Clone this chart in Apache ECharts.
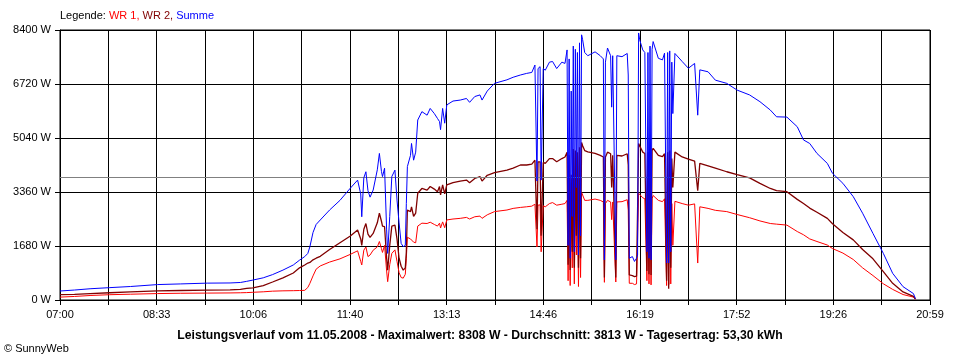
<!DOCTYPE html>
<html><head><meta charset="utf-8">
<script src="https://cdn.jsdelivr.net/npm/echarts@6/dist/echarts.min.js"></script>
<style>html,body{margin:0;padding:0;background:#fff}#c{width:960px;height:360px}</style>
</head><body><div id="c"></div>
<script>
const tickLabels = ['07:00','08:33','10:06','11:40','13:13','14:46','16:19','17:52','19:26','20:59'];
const yMax = 8400, yStep = 1680, average = 3813;
const times = ['07:00','07:14','07:29','07:48','08:08','08:34','08:56','09:22','09:44','09:54','10:00','10:06','10:16','10:25','10:35','10:45','10:51','10:56','10:59','11:01','11:04','11:07','11:11','11:20','11:30','11:40','11:47','11:50','11:51','11:53','11:55','11:57','11:59','12:02','12:06','12:08','12:10','12:11','12:13','12:15','12:16','12:18','12:20','12:23','12:25','12:27','12:29','12:31','12:33','12:34','12:35','12:38','12:39','12:41','12:43','12:45','12:49','12:54','12:57','13:01','13:04','13:06','13:07','13:09','13:11','13:13','13:19','13:26','13:32','13:35','13:40','13:45','13:47','13:52','13:59','14:11','14:17','14:24','14:30','14:35','14:38','14:40','14:41','14:43','14:44','14:46','14:48','14:52','14:55','14:59','15:04','15:07','15:09','15:10','15:11','15:12','15:13','15:14','15:15','15:16','15:17','15:18','15:19','15:20','15:21','15:22','15:23','15:24','15:26','15:29','15:36','15:41','15:44','15:45','15:46','15:48','15:51','15:52','15:53','15:56','15:57','16:02','16:07','16:08','16:09','16:10','16:12','16:14','16:16','16:17','16:18','16:19','16:22','16:24','16:26','16:27','16:28','16:29','16:30','16:31','16:32','16:37','16:41','16:43','16:45','16:46','16:47','16:48','16:49','16:50','16:51','16:53','17:00','17:06','17:12','17:15','17:17','17:25','17:32','17:43','17:53','18:05','18:15','18:25','18:31','18:41','18:51','18:57','19:03','19:10','19:20','19:25','19:35','19:45','19:54','20:04','20:14','20:23','20:33','20:43','20:45'];
const summe = [280,310,350,385,420,480,500,525,530,545,580,620,690,790,930,1090,1240,1350,1450,1660,2100,2350,2490,2800,3100,3480,3730,3300,2590,3800,3990,3400,3200,3420,4050,4560,4000,3840,4100,2180,1450,2600,3840,4040,3110,2400,1760,1660,1700,3000,4150,4500,4870,4350,4600,5600,5860,5750,5960,5800,5650,5550,5300,5960,5500,6070,6190,6220,6270,6150,6330,6380,6220,6500,6740,6850,6930,7000,7050,7080,7310,3700,7200,7260,3730,7200,7150,7400,7420,7200,7400,7360,7780,1700,7500,1300,6500,2600,7900,1500,7800,3500,7700,1400,8000,2000,8250,8100,7700,7600,7720,7600,7500,1250,7400,7840,7600,6000,7600,1250,7600,7570,7670,7000,1300,1250,1350,1200,1300,1400,8308,8100,7780,7700,1500,7700,1300,7900,1250,7800,8040,7520,7470,7680,1150,7700,1150,7750,1500,7400,5800,7670,7420,7210,7360,5750,7160,7100,6840,6740,6530,6380,6170,5910,5700,5690,5390,4980,4870,4560,4250,3940,3630,3215,2700,2070,1450,830,415,200,40];
const wr2 = [165,175,200,225,250,285,295,310,315,330,360,380,450,560,690,840,1000,1090,1150,1170,1250,1300,1360,1570,1780,1990,2180,1900,1700,2200,2380,2050,1950,2070,2400,2700,2450,2300,2280,1300,930,1700,2300,2330,1900,1300,1050,930,1000,1500,2800,2750,2900,2600,2700,3320,3470,3420,3530,3450,3370,3530,3270,3580,3300,3580,3650,3700,3730,3650,3780,3840,3700,3880,3960,4040,4100,4200,4200,4230,4350,2200,4300,4300,2000,4280,4250,4400,4400,4300,4400,4450,4600,1100,4500,930,3900,1500,4700,1000,4650,2000,4600,1000,4750,1300,4900,4800,4650,4610,4560,4500,4450,700,4450,4600,4550,3500,4500,700,4500,4480,4550,4200,780,740,760,730,740,800,4870,4800,4600,4560,900,4600,800,4700,780,4650,4720,4500,4460,4550,600,4600,350,4650,1000,4400,3500,4600,4450,4380,4320,3400,4250,4170,4100,3990,3900,3800,3630,3470,3400,3370,3130,3000,2860,2730,2540,2370,2100,1870,1570,1280,880,519,250,110,30];
const wr1 = [90,110,140,165,180,200,210,215,220,225,230,240,255,275,285,290,295,300,390,520,750,960,1060,1180,1280,1420,1530,1200,1090,1550,1650,1350,1400,1550,1650,1820,1600,1480,1700,900,570,1100,1450,1560,1200,850,700,680,800,1300,1950,1900,1920,1800,1780,2300,2390,2380,2420,2350,2300,2390,2240,2430,2250,2490,2520,2540,2570,2520,2590,2610,2540,2650,2750,2800,2850,2880,2900,2920,2980,1650,2950,2960,1500,2930,2900,3000,3030,2950,2980,3000,3100,600,3000,450,2600,1000,3200,500,3150,1400,3100,420,3250,700,3350,3300,3100,3100,3140,3100,3050,550,3000,3100,3050,2500,3050,560,3050,3060,3120,2800,520,500,520,480,500,560,3320,3280,3180,3150,600,3100,500,3200,470,3150,3250,3100,3060,3150,450,3150,480,3150,500,3000,1700,3070,3000,2950,2990,1150,2900,2850,2790,2750,2660,2560,2460,2380,2360,2330,2130,2030,1900,1820,1710,1600,1460,1260,1000,760,505,330,170,90,20];

const toMin = t => { const [h, m] = t.split(':').map(Number); return (h - 7) * 60 + m; };
const span = toMin('20:59');
const xStep = span / 18;
const pts = arr => times.map((t, i) => [toMin(t), arr[i]]);
const font = '"Liberation Sans", Arial, sans-serif';
const rs = c => ({color: c, fontSize: 11, fontWeight: 'normal', fontFamily: font});

const chart = echarts.init(document.getElementById('c'), null, {renderer: 'canvas'});
chart.setOption({
  animation: false,
  backgroundColor: '#fff',
  textStyle: {fontFamily: font},
  title: [
    {text: '{k|Legende: }{a|WR 1, }{b|WR 2, }{c|Summe}', left: 60, top: 10, padding: 0,
     textStyle: {fontWeight: 'normal', fontSize: 11, rich: {k: rs('#000'), a: rs('#ff0000'), b: rs('#800000'), c: rs('#0000ff')}}},
    {text: 'Leistungsverlauf vom 11.05.2008 - Maximalwert: 8308 W - Durchschnitt: 3813 W - Tagesertrag: 53,30 kWh',
     left: 'center', top: 330, padding: 0,
     textStyle: {fontSize: 12.2, fontWeight: 'bold', color: '#000', fontFamily: font}},
    {text: '© SunnyWeb', left: 4, top: 343, padding: 0,
     textStyle: {fontSize: 11, fontWeight: 'normal', color: '#000', fontFamily: font}}
  ],
  grid: {left: 60, right: 30, top: 30, bottom: 60, show: true, borderColor: '#000', borderWidth: 1},
  xAxis: {
    type: 'value', min: 0, max: span, interval: xStep,
    axisLine: {lineStyle: {color: '#000', width: 1}},
    axisTick: {show: true, length: 5, lineStyle: {color: '#000'}},
    splitLine: {show: true, lineStyle: {color: '#000', width: 1}},
    axisLabel: {color: '#000', fontSize: 11, fontFamily: font, margin: 9, showMinLabel: true, showMaxLabel: true,
      formatter: v => { const i = Math.round(v / xStep); return i % 2 === 0 ? (tickLabels[i / 2] || '') : ''; }}
  },
  yAxis: {
    type: 'value', min: 0, max: yMax, interval: yStep,
    axisLine: {show: true, lineStyle: {color: '#000', width: 1}},
    axisTick: {show: true, length: 5, lineStyle: {color: '#000'}},
    splitLine: {show: true, lineStyle: {color: '#000', width: 1}},
    axisLabel: {color: '#000', fontSize: 11, fontFamily: font, margin: 9, formatter: v => v + ' W'}
  },
  series: [
    {name: 'WR 1', type: 'line', data: pts(wr1), showSymbol: false, symbol: 'none',
     lineStyle: {color: '#ff0000', width: 1}, z: 3,
     markLine: {silent: true, symbol: 'none', label: {show: false},
       lineStyle: {color: '#808080', width: 1, type: 'solid'}, data: [{yAxis: average}]}},
    {name: 'WR 2', type: 'line', data: pts(wr2), showSymbol: false, symbol: 'none',
     lineStyle: {color: '#800000', width: 1.3}, z: 4},
    {name: 'Summe', type: 'line', data: pts(summe), showSymbol: false, symbol: 'none',
     lineStyle: {color: '#0000ff', width: 1}, z: 5}
  ]
});
</script></body></html>
